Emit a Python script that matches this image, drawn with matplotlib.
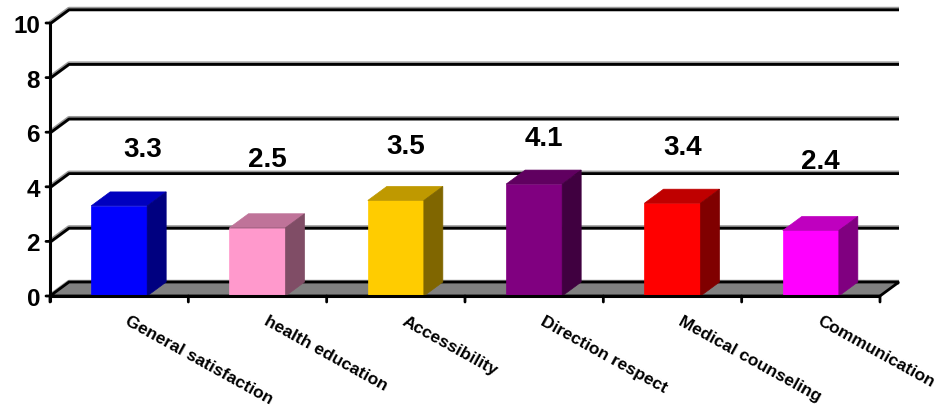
import matplotlib
matplotlib.use("Agg")
import matplotlib.pyplot as plt
from matplotlib.patches import Polygon
from matplotlib.colors import to_rgb
import matplotlib.transforms as mtransforms

plt.rcParams['font.family'] = ['Liberation Sans', 'DejaVu Sans']
plt.rcParams['font.weight'] = 'bold'

categories = ["General satisfaction", "health education", "Accessibility",
              "Direction respect", "Medical counseling", "Communication"]
values = [3.3, 2.5, 3.5, 4.1, 3.4, 2.4]
colors = ["#0000FF", "#FF99CC", "#FFCC00", "#800080", "#FF0000", "#FF00FF"]
y_ticks = [0, 2, 4, 6, 8, 10]

W, H, DPI = 939, 410, 100
fig = plt.figure(figsize=(W / DPI, H / DPI), dpi=DPI)
ax = fig.add_axes([50 / W, 113 / H, 830 / W, 273 / H])
n = len(categories)
ax.set_xlim(-0.5, n - 0.5)
ax.set_ylim(0, 10)
ax.axis('off')

# depth offset of the 3-D box (in data units)
dx = 19 / 830 * n
dy = 14 / 273 * 10
bar_w = 0.405

def shade(c, f):
    r, g, b = to_rgb(c)
    return (r * f, g * f, b * f)

# back wall gridlines with their shadow, plus the diagonal returns
shadow = mtransforms.offset_copy(ax.transData, fig=fig, x=0, y=-0.8, units='dots')
for k in y_ticks:
    xs = [-0.5, -0.5 + dx, n - 0.5 + dx]
    ys = [k, k + dy, k + dy]
    ax.plot(xs, ys, color='#9a9a9a', lw=3.2, clip_on=False, zorder=1,
            solid_capstyle='butt')
    ax.plot(xs, ys, color='black', lw=2.0, clip_on=False, zorder=1.1,
            transform=shadow, solid_capstyle='butt')

# floor
floor = Polygon([(-0.5, 0), (n - 0.5, 0), (n - 0.5 + dx, dy), (-0.5 + dx, dy)],
                closed=True, facecolor='#808080', edgecolor='black', lw=2,
                clip_on=False, zorder=2)
ax.add_patch(floor)

# bars
for i, (v, c) in enumerate(zip(values, colors)):
    x0, x1 = i - bar_w / 2, i + bar_w / 2
    front = Polygon([(x0, 0), (x1, 0), (x1, v), (x0, v)], closed=True,
                    facecolor=c, edgecolor=c, lw=0.5, clip_on=False, zorder=3)
    top = Polygon([(x0, v), (x1, v), (x1 + dx, v + dy), (x0 + dx, v + dy)],
                  closed=True, facecolor=shade(c, 0.75), edgecolor=shade(c, 0.75),
                  lw=0.5, clip_on=False, zorder=3)
    side = Polygon([(x1, 0), (x1 + dx, dy), (x1 + dx, v + dy), (x1, v)],
                   closed=True, facecolor=shade(c, 0.5), edgecolor=shade(c, 0.5),
                   lw=0.5, clip_on=False, zorder=3)
    for p in (front, top, side):
        ax.add_patch(p)

px = 0.72  # points per pixel at this dpi

# value labels floating above the bars
label_nudge = [0.1, 0, 0, 0, 0, 0]
for i, v in enumerate(values):
    ax.annotate(f"{v:.1f}", xy=(i + 0.07 + label_nudge[i], 3.86 + 0.5 * v),
                xytext=(0, -3 * px), textcoords='offset points',
                ha='center', va='center', fontsize=20, fontweight='bold',
                annotation_clip=False, zorder=5)

# front axis lines
ax.plot([-0.5, n - 0.5], [0, 0], color='black', lw=2.2, clip_on=False, zorder=4,
        solid_capstyle='butt')
ax.plot([-0.5, -0.5], [-0.22, 10], color='black', lw=2.2, clip_on=False, zorder=4,
        solid_capstyle='butt')

# y ticks and labels
for k in y_ticks:
    ax.annotate('', xy=(-0.5, k), xytext=(-4 * px, 0), textcoords='offset points',
                arrowprops=dict(arrowstyle='-', lw=2, color='black',
                                shrinkA=0, shrinkB=0), annotation_clip=False)
    ax.annotate(str(k), xy=(-0.5, k), xytext=(-10 * px, -2.5 * px),
                textcoords='offset points', ha='right', va='center',
                fontsize=17.5, fontweight='bold', annotation_clip=False)

# category separators below the floor
for j in range(n + 1):
    ax.annotate('', xy=(j - 0.5, 0), xytext=(0, -6 * px), textcoords='offset points',
                arrowprops=dict(arrowstyle='-', lw=2, color='black',
                                shrinkA=0, shrinkB=0), annotation_clip=False)

# slanted category names
for i, name in enumerate(categories):
    ax.annotate(name, xy=(i, 0), xytext=(11 * px, -17 * px), textcoords='offset points',
                ha='left', va='top', rotation=-29, rotation_mode='anchor',
                fontsize=12.5, fontweight='bold', annotation_clip=False)

fig.savefig('out.png', dpi=DPI)
